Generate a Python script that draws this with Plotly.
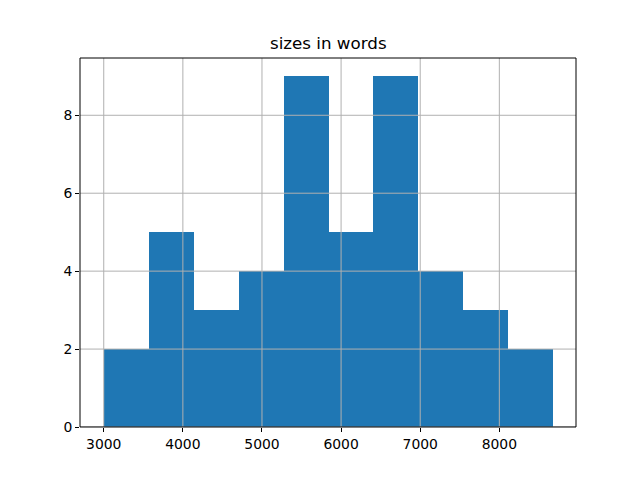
import plotly.graph_objects as go

# Data: histogram of document sizes in words (10 bins)
bin_edges = [3008, 3575, 4141, 4708, 5275, 5841, 6408, 6975, 7541, 8108, 8675]
counts = [2, 5, 3, 4, 9, 5, 9, 4, 3, 2]
x_ticks = [3000, 4000, 5000, 6000, 7000, 8000]
y_ticks = [0, 2, 4, 6, 8]

centers = [(a + b) / 2 for a, b in zip(bin_edges[:-1], bin_edges[1:])]
widths = [b - a for a, b in zip(bin_edges[:-1], bin_edges[1:])]

fig = go.Figure()
fig.add_trace(go.Bar(x=centers, y=counts, width=widths,
                     marker=dict(color="#1f77b4", line=dict(width=0)),
                     showlegend=False))

xr = [2700, 8969]
yr = [0, 9.47]

shapes = []
for t in x_ticks:
    shapes.append(dict(type="line", xref="x", yref="paper", x0=t, x1=t, y0=0, y1=1,
                       line=dict(color="#b0b0b0", width=1), layer="above"))
for t in y_ticks:
    shapes.append(dict(type="line", xref="paper", yref="y", x0=0, x1=1, y0=t, y1=t,
                       line=dict(color="#b0b0b0", width=1), layer="above"))
shapes.append(dict(type="rect", xref="paper", yref="paper", x0=0, x1=1, y0=0, y1=1,
                   line=dict(color="black", width=1), layer="above"))

font = "DejaVu Sans, sans-serif"
fig.update_layout(
    width=640, height=480,
    margin=dict(l=80, r=64, t=58, b=53),
    paper_bgcolor="white", plot_bgcolor="white",
    bargap=0,
    shapes=shapes,
    font=dict(family=font, size=14, color="black"),
    annotations=[dict(text="sizes in words", xref="paper", yref="paper", x=0.5, y=1,
                      xanchor="center", yanchor="bottom", yshift=3, showarrow=False,
                      font=dict(family=font, size=16.7, color="black"))],
    xaxis=dict(range=xr, tickvals=x_ticks, ticktext=[str(t) for t in x_ticks],
               showgrid=False, zeroline=False, ticks="outside", ticklen=4,
               tickcolor="black", showline=False, tickfont=dict(size=13.9)),
    yaxis=dict(range=yr, tickvals=y_ticks, ticktext=[str(t) for t in y_ticks],
               showgrid=False, zeroline=False, ticks="outside", ticklen=4,
               tickcolor="black", showline=False, tickfont=dict(size=13.9)),
)

fig.write_html("out.html")
